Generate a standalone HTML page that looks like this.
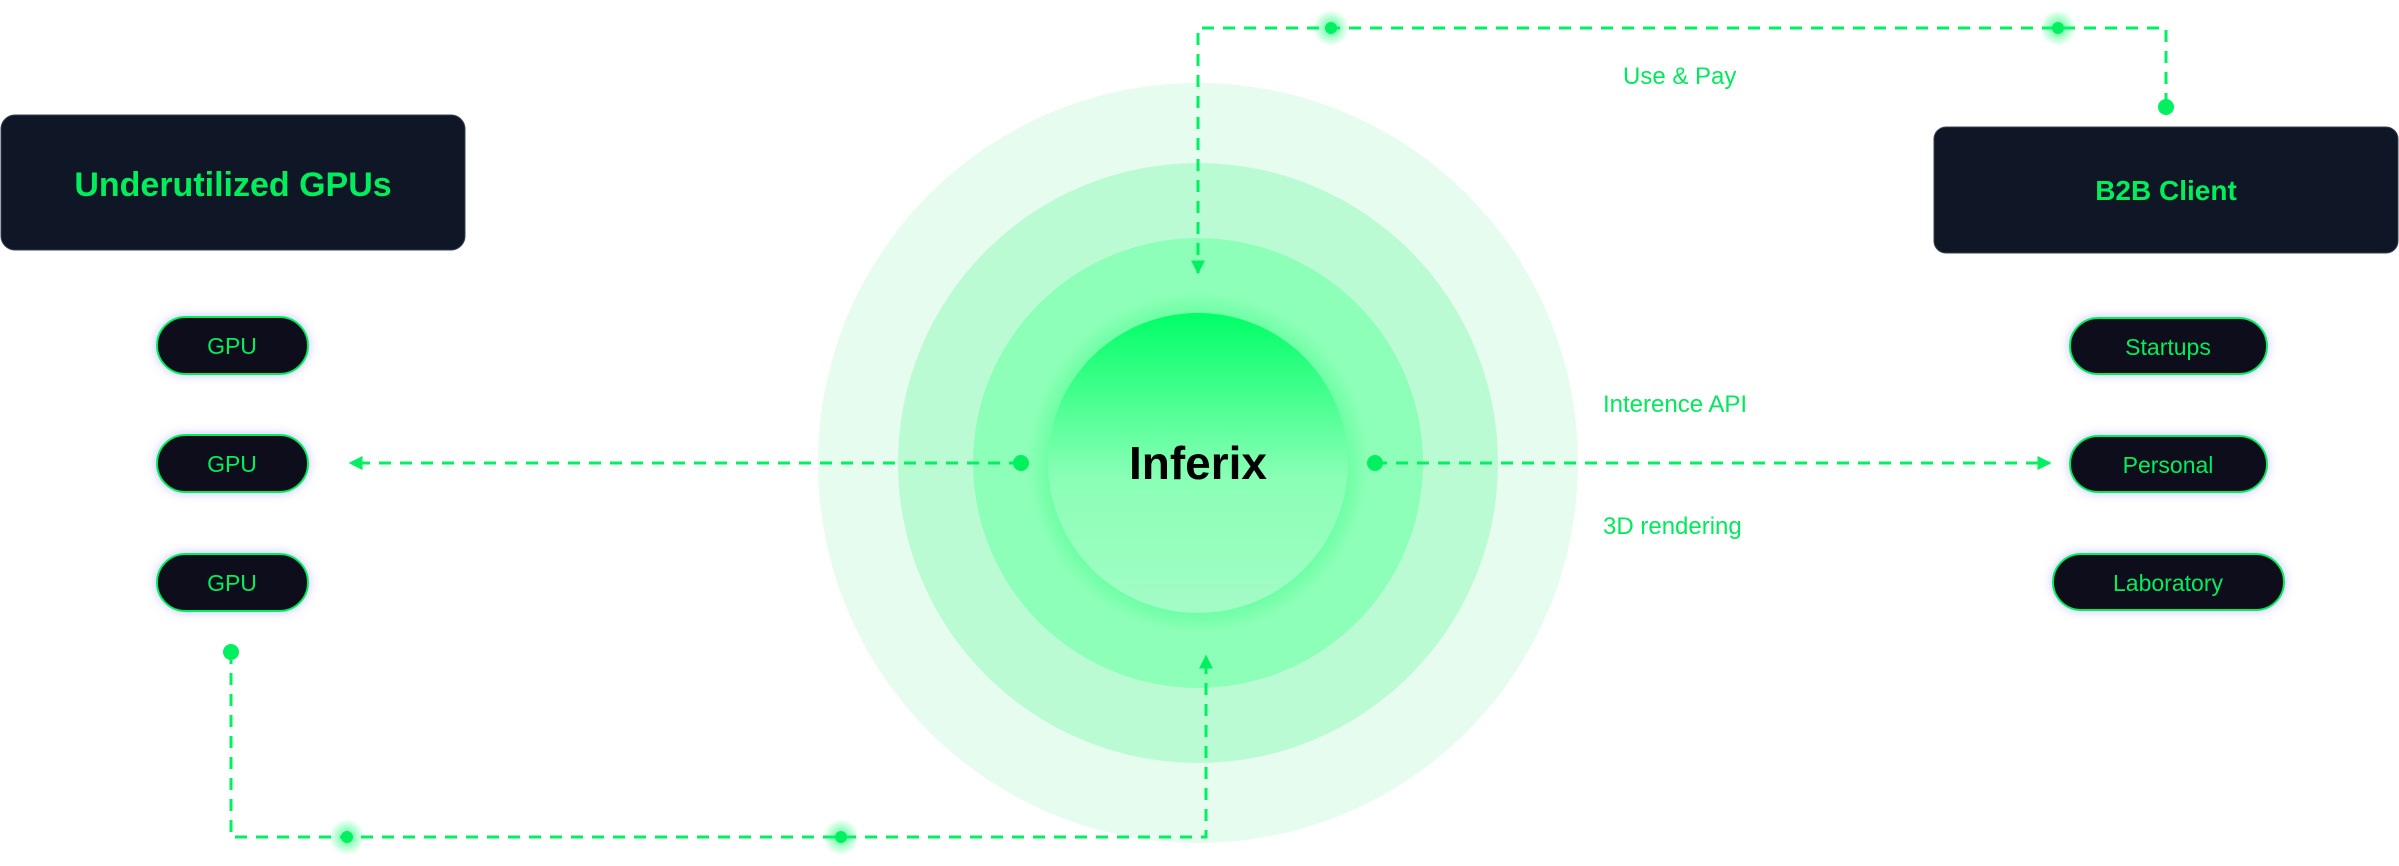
<!DOCTYPE html>
<html><head><meta charset="utf-8"><style>
html,body{margin:0;padding:0;background:#fff;width:2399px;height:866px;overflow:hidden}
svg{display:block}
text{font-family:"Liberation Sans",sans-serif}
</style></head><body>
<svg width="2399" height="866" viewBox="0 0 2399 866">
<defs>
<linearGradient id="core" x1="0" y1="0" x2="0" y2="1">
<stop offset="0" stop-color="#00ff66"/><stop offset="0.55" stop-color="#8affb6"/><stop offset="1" stop-color="#a3fcc6"/>
</linearGradient>
<radialGradient id="ring" cx="0.5" cy="0.5" r="0.5">
<stop offset="0.64" stop-color="#66ffa0"/><stop offset="0.76" stop-color="#8effb8"/><stop offset="1" stop-color="#8effb8"/>
</radialGradient>
<radialGradient id="glow"><stop offset="0" stop-color="#00ff66" stop-opacity="0.7"/><stop offset="1" stop-color="#00ff66" stop-opacity="0"/></radialGradient>
<filter id="pillShadow" x="-20%" y="-40%" width="140%" height="180%"><feDropShadow dx="0" dy="0" stdDeviation="5" flood-color="#8a8cff" flood-opacity="0.5"/></filter>
<marker id="arr" viewBox="0 0 10 10" refX="9" refY="5" markerWidth="14" markerHeight="14" markerUnits="userSpaceOnUse" orient="auto"><path d="M0,0L10,5L0,10z" fill="#00f060"/></marker>
</defs>

<circle cx="1198" cy="463" r="380" fill="#e5fcee"/>
<circle cx="1198" cy="463" r="300" fill="#bbfbd4"/>
<circle cx="1198" cy="463" r="225" fill="url(#ring)"/>
<circle cx="1198" cy="463" r="150" fill="url(#core)"/>
<text x="1198" y="479" text-anchor="middle" font-size="46" font-weight="bold" fill="#000">Inferix</text>

<g fill="none" stroke="#00f060" stroke-width="3" stroke-dasharray="12 9">
<path d="M2166,105 V28 H1198 V273" marker-end="url(#arr)"/>
<path d="M1021,463 H350" marker-end="url(#arr)"/>
<path d="M1375,463 H2050" marker-end="url(#arr)"/>
<path d="M231,652 V837 H1206 V656" marker-end="url(#arr)"/>
</g>
<g fill="#00f060">
<circle cx="1021" cy="463" r="8"/>
<circle cx="1375" cy="463" r="8"/>
<circle cx="2166" cy="107" r="8"/>
<circle cx="231" cy="652" r="8"/>
</g>
<g>
<circle cx="1331" cy="28" r="18" fill="url(#glow)"/><circle cx="1331" cy="28" r="6" fill="#00f060"/>
<circle cx="2058" cy="28" r="18" fill="url(#glow)"/><circle cx="2058" cy="28" r="6" fill="#00f060"/>
<circle cx="347" cy="837" r="18" fill="url(#glow)"/><circle cx="347" cy="837" r="6" fill="#00f060"/>
<circle cx="841" cy="837" r="18" fill="url(#glow)"/><circle cx="841" cy="837" r="6" fill="#00f060"/>
</g>

<g font-size="24" fill="#00e85c">
<text x="1623" y="84">Use &amp; Pay</text>
<text x="1603" y="412">Interence API</text>
<text x="1603" y="534">3D rendering</text>
</g>

<g>
<rect x="1" y="115" width="464" height="135" rx="14" fill="#0f1626" stroke="#3a4050" stroke-width="1"/>
<text x="233" y="196" text-anchor="middle" font-size="34" font-weight="bold" fill="#00ee5c">Underutilized GPUs</text>
<g filter="url(#pillShadow)">
<rect x="157" y="317" width="151" height="57" rx="28.5" fill="#0a101c" stroke="#00ee5c" stroke-width="2"/>
<rect x="157" y="435" width="151" height="57" rx="28.5" fill="#0a101c" stroke="#00ee5c" stroke-width="2"/>
<rect x="157" y="554" width="151" height="57" rx="28.5" fill="#0a101c" stroke="#00ee5c" stroke-width="2"/>
</g>
<g font-size="23" fill="#00ee5c" text-anchor="middle">
<text x="232" y="354">GPU</text><text x="232" y="472">GPU</text><text x="232" y="591">GPU</text>
</g>
</g>

<g>
<rect x="1934" y="127" width="464" height="126" rx="12" fill="#0f1626" stroke="#3a4050" stroke-width="1"/>
<text x="2166" y="200" text-anchor="middle" font-size="28" font-weight="bold" fill="#00ee5c">B2B Client</text>
<g filter="url(#pillShadow)">
<rect x="2070" y="318" width="197" height="56" rx="28" fill="#0a101c" stroke="#00ee5c" stroke-width="2"/>
<rect x="2070" y="436" width="197" height="56" rx="28" fill="#0a101c" stroke="#00ee5c" stroke-width="2"/>
<rect x="2053" y="554" width="231" height="56" rx="28" fill="#0a101c" stroke="#00ee5c" stroke-width="2"/>
</g>
<g font-size="23" fill="#00ee5c" text-anchor="middle">
<text x="2168" y="355">Startups</text><text x="2168" y="473">Personal</text><text x="2168" y="591">Laboratory</text>
</g>
</g>
</svg>
</body></html>
